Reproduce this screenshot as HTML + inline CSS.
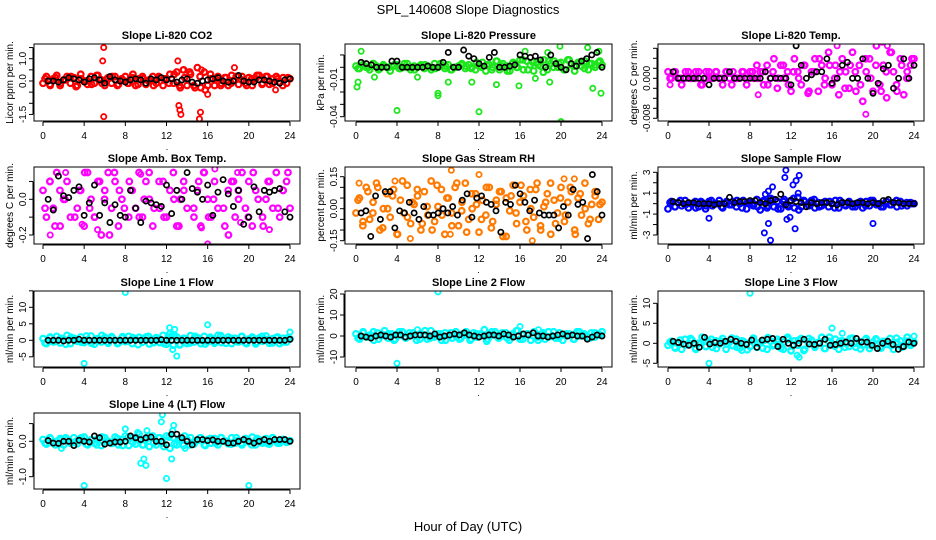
<!DOCTYPE html>
<html><head><meta charset="utf-8"><style>
html,body{margin:0;padding:0;background:#fff}
svg{display:block;font-family:"Liberation Sans",Arial,sans-serif}
</style></head><body>
<svg id="chart" width="936" height="540" viewBox="0 0 936 540" xmlns="http://www.w3.org/2000/svg">
<rect x="0" y="0" width="936" height="540" fill="#fff"/>
<text x="468" y="14" text-anchor="middle" font-size="13">SPL_140608  Slope Diagnostics</text>
<text x="468" y="531" text-anchor="middle" font-size="13">Hour of Day (UTC)</text>
</svg>
<script>
const hourTicks=[0,4,8,12,16,20,24];

const co2Band=[-0.1,0.2,-0.15,0.1,0.25,-0.2,0.05,0.2,-0.1,0.15,-0.2,0.3,0.0,-0.15,0.2,-0.1,0.25,0.05,-0.2,0.15,-0.1,0.2,-0.15,0.1,0.2,-0.1,0.15,-0.2,0.1,0.2,-0.15,0.05,0.2,-0.1,0.15,-0.2,0.1,0.3,-0.1,0.4,-0.3,0.5,-0.2,0.3,-0.2,0.6,-0.3,0.4,-0.2,0.1,-0.2,0.2,-0.1,0.15,-0.2,0.25,0.05,-0.15,0.2,-0.1,0.15,-0.2,0.1,0.25,-0.1,0.2,-0.15,0.1,0.2,-0.05,0.15,-0.1,0.1];
const co2Band2=[0.1,-0.2,0.15,-0.1,0.05,0.2,-0.25,0.1,0.0,-0.15,0.25,-0.1,0.1,0.2,-0.2,0.05,-0.1,0.3,-0.15,0.1,0.0,-0.2,0.2,0.1,-0.1,0.3,-0.2,0.15,0.4,-0.3,0.2,-0.4,0.3,0.1,-0.2,0.15,-0.1,0.2,0.05,-0.2,0.1,0.25,-0.15,0.2,-0.1,0.1,-0.2,0.15];
const co2Black=[0,0,-0.05,0.05,0.15,0.1,0.05,-0.05,0.1,0.15,0.05,-0.1,0.2,0.05,0.0,-0.05,0.05,0.1,0.05,-0.1,0.1,0.05,0.15,0.05,0.1,-0.05,0.05,0.1,-0.05,-0.1,0.0,0.05,0.1,0.15,0.0,-0.05,0.0,0.25,0.0,-0.05,-0.05,0.05,0.05,0.0,-0.05,-0.1,0.05,0.1];
const co2Out=[[5.9,1.5],[5.8,0.9],[5.9,-1.6],[13.2,-1.1],[13.3,-1.3],[13.4,-1.5],[13.1,0.9],[15.2,-1.7],[15.3,-1.4],[18.6,0.6],[16,-0.6],[22.6,-0.4],[13.6,0.5],[15.4,0.5]];

const presBand=[0.001,-0.001,0.002,0.0,-0.002,0.003,0.001,-0.001,0.002,0.0,-0.003,0.001,0.002,-0.001,0.0,0.003,-0.002,0.001,0.0,0.002,-0.001,0.001,-0.002,0.003,0.0,0.001,-0.001,0.002,-0.002,0.0,0.001,0.003,-0.001,0.002,0.0,-0.002,0.001,0.004,-0.003,0.002,0.0,0.005,-0.002,0.003,0.001,-0.003,0.004,0.0,0.006,-0.002,0.005,0.002,-0.003,0.004,0.001,0.006,-0.002,0.003,0.005,0.0,0.004,-0.002,0.006,0.002,-0.003,0.004,0.001,0.005,-0.002,0.003,0.0,0.004,0.002];
const presBand2=[-0.001,0.002,0.0,0.003,-0.002,0.001,0.0,0.002,-0.001,0.003,0.0,-0.002,0.001,0.002,0.0,-0.001,0.003,0.001,-0.002,0.0,0.002,0.001,-0.001,0.004,0.0,0.002,-0.002,0.005,0.001,-0.003,0.003,0.0,0.006,-0.002,0.004,0.002,-0.004,0.005,0.0,0.003,-0.002,0.006,0.001,0.004,-0.001,0.003,0.002,0.005];
const presBlack=[0.004,0.003,0.002,0.0,0.0,0.0,0.005,0.005,0.0,0.0,0.0,0.0,0.0,0.001,0.0,0.0,0.004,0.012,0.0,0.0,0.014,0.009,0.007,0.003,0.001,0.008,0.012,0.0,0.0,0.001,0.002,0.01,0.009,0.008,0.009,0.006,0.0,0.01,0.003,0.0,-0.002,0.003,0.001,0.005,0.007,0.01,0.012,0.0];
const presOut=[[0.1,-0.016],[0.2,-0.012],[0.5,0.013],[4,-0.035],[8,-0.021],[8,-0.023],[12,-0.036],[20,-0.044],[19.9,0.017],[22.6,0.016],[23.9,-0.021],[23.7,0.013],[9,-0.012],[11.3,-0.012],[15.9,-0.015],[13.7,-0.014],[1.8,-0.008],[6.0,-0.008],[17.5,-0.009],[18.9,-0.012],[23.1,-0.017],[16.5,0.013],[18.7,0.012]];

const tempBand=[0.0013,0,0.0013,0,-0.0013,0,0.0013,0,0,0.0013,-0.0013,0,0.0013,0,0.0013,0,-0.0013,0.0013,0,0.0013,0,0,0.0013,-0.0013,0.0013,0,0.0026,0.0013,-0.0013,0.0026,0,0.0039,-0.002,0.0026,0,0.0013,-0.0026,0.0039,0.0013,-0.0013,0.0026,-0.003,0.0013,0.0039,-0.0026,0.0026,0,0.0052,-0.0013,0.0026,-0.0033,0.0039,0.0013,-0.002,0.0052,-0.0026,0.0026,-0.0046,0.0013,0.0039,-0.0026,0.0065,-0.0013,0.0026,-0.0039,0.0052,0.0013,-0.0026,0.0039,-0.0033,0.0013,0.0026,0.0039];
const tempBand2=[0,0.0013,0,0.0013,0,0.0013,-0.0013,0.0013,0,0.0013,0,0.0013,-0.0013,0,0.0013,0,0.0013,0,0.0013,-0.0013,0.0013,0,0.0026,-0.0013,0.0013,0,0.0026,-0.0026,0.0013,0.0039,-0.0013,0.0026,0,0.0013,-0.002,0.0026,0.0013,-0.0013,0.0039,0,0.0026,-0.0026,0.0013,0.0052,-0.0013,0.0026,0,0.0039];
const tempBlack=[0.0013,0,0,0,0,0,0,-0.0013,0,0,0,0.0013,0,0,0,0,0,0,0.0013,0,0,0,0,-0.0013,0.0065,0.0026,0,0.0007,0.0013,0.0013,0.0039,-0.001,0,0.0026,0.0032,0,0,0.0039,0,-0.003,-0.001,0.0019,0.0026,-0.002,0,0.0039,0,0.0026];
const tempOut=[[20.7,-0.0092],[19.3,-0.0072],[23.8,0.0092],[0.2,-0.0013],[8.8,-0.0033],[21.4,0.0065],[20.9,0.0072],[16.5,0.0065]];

const ambBand=[0.05,-0.1,0.1,-0.05,0.15,-0.15,0.0,0.1,-0.1,0.2,-0.05,0.05,-0.15,0.15,0.0,-0.1,0.1,-0.2,0.05,0.15,-0.05,0.1,-0.15,0.0,0.2,-0.1,0.05,-0.05,0.15,-0.1,0.1,0.0,-0.15,0.2,-0.05,0.1,-0.1,0.05,0.15,-0.15,0.0,0.1,-0.05,0.2,-0.1,0.05,-0.15,0.15,0.0,-0.1,0.1,-0.05,0.2,-0.15,0.05,0.1,-0.1,0.0,0.15,-0.05,0.1,-0.15,0.05,0.2,-0.1,0.0,0.1,-0.05,0.15,-0.1,0.05,0.1,-0.05];
const ambBand2=[-0.05,0.1,-0.15,0.05,0.0,0.2,-0.1,0.05,0.15,-0.05,-0.1,0.1,0.0,-0.2,0.15,0.05,-0.05,0.1,0.25,-0.1,0.0,0.15,-0.05,0.1,-0.1,0.2,0.0,-0.15,0.05,0.25,-0.05,0.1,0.15,-0.1,0.0,0.2,-0.05,-0.2,0.1,0.05,0.25,-0.1,0.15,0.0,-0.15,0.1,0.2,-0.05,0.05,0.15];
const ambBlack=[0.0,-0.06,0.13,0.02,0.01,0.05,0.07,-0.09,-0.02,0.08,-0.09,-0.02,-0.13,-0.03,-0.09,-0.1,0.05,-0.05,-0.13,-0.01,-0.02,-0.03,-0.04,0.08,-0.08,0.05,0.0,0.15,0.06,0.04,0.0,0.08,-0.09,0.04,0.11,0.03,-0.04,0.05,-0.14,-0.1,0.07,-0.07,0.05,0.04,0.05,0.06,-0.07,-0.1];
const ambOut=[[0.7,-0.2],[16,-0.25],[5.3,-0.17],[22,-0.17],[15.4,-0.16],[19.2,-0.13],[2.2,0.15],[9.5,0.14],[16.7,0.17],[18.9,0.15],[3.8,-0.14]];

const rhBand=[-0.02,0.05,-0.08,0.1,-0.05,0.03,0.12,-0.1,0.0,0.07,-0.04,0.09,-0.12,0.04,-0.02,0.11,-0.07,0.02,0.06,-0.1,0.08,-0.03,0.13,-0.06,0.01,0.09,-0.12,0.05,-0.02,0.1,-0.08,0.03,0.12,-0.05,0.0,0.07,-0.11,0.04,-0.03,0.1,-0.06,0.02,0.08,-0.13,0.05,-0.01,0.11,-0.07,0.03,0.06,-0.1,0.09,-0.04,0.12,-0.08,0.01,0.07,-0.12,0.04,-0.02,0.1,-0.06,0.03,0.08,-0.1,0.05,-0.03,0.12,-0.07,0.02,0.06,-0.05,0.03];
const rhBand2=[0.04,-0.06,0.08,-0.02,0.1,-0.09,0.0,0.06,-0.12,0.13,-0.04,0.03,0.09,-0.07,0.01,-0.1,0.11,-0.03,0.05,-0.08,0.12,-0.01,-0.11,0.07,0.02,-0.05,0.1,-0.09,0.04,0.08,-0.13,0.06,-0.02,0.11,-0.06,0.0,0.09,-0.1,0.03,0.12,-0.07,0.05,-0.03,0.1,-0.12,0.07,0.0,-0.05,0.08,0.02];
const rhBlack=[-0.02,-0.01,-0.13,0.06,-0.05,0.08,0.08,-0.09,-0.01,-0.02,0.03,-0.02,-0.05,0.01,-0.03,-0.03,-0.02,0.0,-0.02,0.01,-0.03,0.04,0.07,-0.04,0.05,0.06,0.03,0.02,-0.01,-0.11,0.03,0.02,0.11,0.07,0.03,-0.01,0.04,-0.02,-0.03,-0.03,-0.03,-0.09,0.01,-0.03,0.09,0.02,0.03,-0.14,0.16,0.08,-0.03];
const rhOut=[[9.3,0.18],[12,0.16],[5.3,-0.14],[17.2,-0.15],[9.2,-0.12],[21.3,0.14],[20.3,0.14],[3.8,0.13],[0.3,0.12]];

const flowBand=[-0.5,0.2,-0.3,0.1,-0.2,0.3,-0.4,0.0,0.2,-0.3,0.1,-0.5,0.2,-0.2,0.0,0.3,-0.4,0.1,-0.1,0.2,-0.3,0.0,0.3,-0.5,0.1,-0.2,0.4,-0.6,0.3,-0.4,0.5,-0.3,0.2,-0.5,0.4,-0.2,0.3,-0.4,0.6,-0.3,0.2,-0.1,0.3,-0.4,0.1,-0.2,0.2,-0.3,0.0,0.3,-0.4,0.1,-0.2,0.2,-0.3,0.0,0.1,-0.4,0.2,-0.2,0.3,-0.1,0.0,-0.3,0.2,-0.1,0.1,-0.3,0.2,0.0,-0.2,0.1,0.0];
const flowBand2=[0.1,-0.3,0.3,-0.1,0.0,-0.4,0.2,-0.2,0.3,0.0,-0.3,0.2,-0.1,0.3,-0.4,0.1,0.0,-0.3,0.2,-0.2,0.4,-0.5,0.2,-0.3,0.5,-0.6,0.3,-0.2,0.4,-0.3,0.1,0.2,-0.4,0.3,-0.1,0.0,-0.3,0.2,-0.2,0.3,0.0,-0.3,0.2,-0.1,0.3,-0.2,0.1,0.0];
const flowBlack=[0.2,0.1,0.0,0.1,0.1,0.0,0.0,0.0,-0.1,0.0,0.0,0.6,0.1,0.2,0.2,0.3,0.3,0.1,0.0,0.3,0.4,0.9,-0.1,0.3,0.2,0.1,-0.3,0.1,0.0,0.1,0.1,0.0,-0.1,0.1,0.1,0.0,0.1,0.1,0.0,0.1,0.0,0.3,0.4,0.1,0.1,0.0,0.0,0.0];
const flowOut=[[4,-1.4],[20,-1.9],[9.4,-2.8],[9.8,-1.9],[10,-3.5],[11.5,3.2],[11.4,2.5],[12.8,2.7],[12.5,2.2],[12.2,1.8],[10.2,1.6],[9.8,1.2],[9.5,0.9],[11.6,-1.5],[11.9,-1.3],[12.4,-2.4],[12.7,1.0]];

const l1Band=[0.5,-1,0.8,-0.5,1.2,-0.8,0.3,1.5,-1,0.6,-0.3,1,-0.7,0.2,1.3,-1.2,0.5,-0.5,0.9,-0.9,1.1,0.0,-0.8,0.7,-0.4,1.2,-1,0.4,0.9,-0.6,1,-1.1,0.3,0.8,-0.7,1.5,-1.2,2,-1.5,1,-1.3,0.6,-1,1.4,-0.5,0.8,-1,1.2,-0.4,0.5,-0.9,1.5,-0.7,0.3,1,-1,0.6,-0.5,1.2,-0.8,0.4,1,-1.1,0.7,-0.3,1.3,-0.9,0.5,0.8,-1,0.6,-0.5,0.4];
const l1Band2=[-0.8,1,-0.3,0.6,-1.2,0.9,0.0,-0.6,1.3,-0.9,0.4,1.5,-0.5,0.7,-1,1.1,-0.2,0.8,-1.3,0.5,1.2,-0.7,0.3,-1,0.9,1.6,-1.4,0.5,-0.8,1.2,0.0,-1.1,0.9,-0.4,1.4,-0.9,0.6,-0.3,1.1,-1,0.7,-0.6,1.2,0.2,-0.8,1,-0.5,0.8];
const l1Black=[0,0,0,-0.2,0,0,0.3,0,0,0,0,0,0,0,0,0,0,0,0,0,0,0,0.2,0,0,0,0,0,0,0,0,0,0,0,0,0,0,0,0,0,0,0,0,0,0,0,0,0.3];
const l1Out=[[8,14.5],[4,-7],[16,4.7],[24,2.5],[12.3,3.8],[12.8,3.3],[12.6,-2.8],[13,-4.8],[12.5,1.5]];

const l2Band=[1,-1.5,2,-0.5,0.5,-2,1.5,0,2.5,-1,1,-1.5,0.5,2,-1,0,1.5,-2,1,0.5,-1.5,2.5,-0.5,1,-2,1.5,0,-1,2,-1.5,1,0.5,-2,1.5,-0.5,1,3,-1.5,0.5,2,-1,0,1.5,-2,1,2.5,-1.5,0.5,1,-2,2,-0.5,1,-1.5,2,0,-1,1.5,-2,1,0.5,-1.5,2,0,1,-1,1.5,-0.5,0.5,2];
const l2Band2=[-1,1.5,0,2,-1.5,0.5,1,-2,2,-0.5,1.5,0,-1.5,2.5,-1,0.5,1,-2,1.5,0,-1,2,-1.5,1,0.5,-2.5,2,0,1.5,-1,0.5,2.5,-1.5,1,0,-2,1.5,-0.5,2,-1,0.5,1,-1.5,2,0,-1,1.5,0.5];
const l2Black=[0,-0.5,-1,0,0.5,0,-0.5,0.5,0.5,-0.5,0,0.5,0.5,0.5,0,1,-0.5,0,0.5,1,0.5,1.5,0.5,0,-0.5,0,0.5,0.5,0,1,0.5,-0.5,0,1,0.5,1.5,0,0,-0.5,0,0.5,1,0,0.5,0,0,-1.5,-0.5,0.5,0];
const l2Out=[[8,21],[4,-13],[16,4.5],[6,3],[17.8,3],[24,2]];

const l3Band=[-0.5,0.5,-1,0.2,-1.5,1,-0.3,0.8,-1.2,0,1.5,-0.8,0.4,-1,0.6,-0.2,1.2,-1.5,0.3,-0.6,1,-1.2,0.5,0,-0.8,1.3,-1,0.2,0.7,-1.5,0.5,-0.3,1,-1.2,0.4,1.5,-1.8,0.6,-0.5,1.2,-1.5,0.3,0.8,-1,0.2,1.5,-1.3,0.5,-0.2,1,-1.5,0.6,0,-0.8,1.3,-1,0.4,-0.5,1.2,-1.3,0.3,0.8,-1,0.5,-0.3,1.2,-1.5,0.2,0.6,-0.8,1.5,-0.5,0.3];
const l3Band2=[0.3,-1.2,0.8,-0.4,1.2,-1.5,0.2,-0.8,1,-1.3,0.5,-0.2,1.3,-1,0.6,-1.6,0.9,0,-1.2,1.4,-0.6,0.4,-1.5,1,-0.3,0.8,-1.8,1.2,-0.5,0.3,-1.3,1.5,-0.7,0.5,-1,1.2,0.0,-1.4,0.9,-0.5,1.1,-1.2,0.4,-0.6,1.3,-1,0.5,0.0];
const l3Black=[0.5,0.2,-0.2,-0.5,0,-1,1.5,-0.2,0.2,0,0.5,1,0.5,0,-0.3,0.8,-1,0.8,1,1.2,-0.8,1,0,-0.5,0,1,-0.2,-0.3,0,1,-0.5,-0.3,0,0.3,0,1.2,0.3,0.3,-0.5,-1.3,0,0.5,-0.3,-1.5,-0.8,0.3,0];
const l3Out=[[8,12.5],[4,-5],[16,3.8],[17,2.5],[24,1.8],[12,-2],[12.6,-3],[12.8,-3.5],[7.2,-1.8]];

const l4Band=[0.05,-0.08,0.1,-0.05,0.0,0.08,-0.1,0.05,-0.03,0.1,-0.07,0.02,0.12,-0.1,0.04,-0.05,0.08,-0.12,0.1,0.0,-0.06,0.12,-0.1,0.05,0.15,-0.12,0.1,-0.08,0.2,-0.1,0.05,-0.15,0.15,-0.1,0.1,-0.05,0.15,-0.2,0.1,-0.1,0.08,-0.12,0.05,0.1,-0.08,0.02,0.1,-0.1,0.05,-0.05,0.08,-0.1,0.1,0.0,-0.07,0.1,-0.05,0.03,-0.1,0.08,-0.02,0.12,-0.1,0.05,-0.05,0.08,-0.08,0.1,0.0,-0.05,0.05,-0.03,0.02];
const l4Band2=[-0.05,0.08,-0.1,0.03,0.1,-0.06,0.0,0.1,-0.08,0.05,-0.1,0.12,0.0,-0.05,0.08,-0.12,0.1,-0.03,0.06,-0.1,0.15,-0.05,0.1,-0.15,0.12,-0.08,0.05,0.15,-0.1,0.0,0.1,-0.12,0.08,-0.05,0.1,0.0,-0.08,0.1,-0.05,0.06,-0.1,0.08,0.0,-0.06,0.1,-0.05,0.05,0.0];
const l4Black=[0.02,-0.05,-0.06,0.0,0.0,-0.12,0.03,0.0,-0.02,0.15,0.1,-0.08,-0.05,-0.02,-0.02,0.0,0.15,0.1,0.05,0.1,0.12,0.0,0.0,-0.1,0.2,0.2,0.1,0.0,-0.1,0.05,0.05,0.02,0.04,0.0,0.0,-0.05,-0.05,0.0,0.05,0.0,-0.05,0.0,0.05,0.0,0.05,0.05,0.05,0.0];
const l4Out=[[4,-1.25],[20,-1.25],[12,-1.05],[11.6,0.75],[11.5,0.55],[9.5,-0.62],[9.8,-0.5],[10,-0.68],[12.5,-0.5],[8,0.35],[12.7,0.45],[12.6,0.3],[10.1,0.3],[9.2,0.25],[1.8,-0.2],[13.8,-0.2]];

const cols=[{l:34,r:300,x0:43,x24:290},{l:345,r:612,x0:356,x24:602},{l:658,r:924,x0:668,x24:914}];
const rows=[{t:44,b:121},{t:167,b:244},{t:291,b:367},{t:413,b:489}];

const panels=[
 {name:'co2',title:'Slope Li-820 CO2',ylab:'Licor ppm per min.',c:0,r:0,color:'#ff0000',band:co2Band,band2:co2Band2,black:co2Black,out:co2Out,map:[0,81,1,58.7],ticks:[-1.5,-1,-0.5,0,0.5,1,1.5],labels:['-1.5','','','0.0','','1.0','']},
 {name:'pressure',title:'Slope Li-820 Pressure',ylab:'kPa per min.',c:1,r:0,color:'#1ee61e',band:presBand,band2:presBand2,black:presBlack,out:presOut,map:[0,67.3,-0.04,116.7],ticks:[-0.04,-0.03,-0.02,-0.01,0,0.01],labels:['-0.04','','','-0.01','','']},
 {name:'temp',title:'Slope Li-820 Temp.',ylab:'degrees C per min.',c:2,r:0,color:'#ff00ff',band:tempBand,band2:tempBand2,black:tempBlack,out:tempOut,map:[0,78.3,-0.008,118.3],ticks:[-0.008,-0.006,-0.004,-0.002,0,0.002,0.004,0.006],labels:['-0.008','','','','0.000','','','']},
 {name:'amb-box',title:'Slope Amb. Box Temp.',ylab:'degrees C per min.',c:0,r:1,color:'#ff00ff',band:ambBand,band2:ambBand2,black:ambBlack,out:ambOut,map:[0,199.3,-0.2,235],ticks:[-0.2,-0.1,0,0.1],labels:['-0.2','','0.0','']},
 {name:'gas-rh',title:'Slope Gas Stream RH',ylab:'percent per min.',c:1,r:1,color:'#ff7a00',band:rhBand,band2:rhBand2,black:rhBlack,out:rhOut,map:[0,208.7,0.15,176.7],ticks:[-0.15,-0.1,-0.05,0,0.05,0.1,0.15],labels:['-0.15','','','0.00','','','0.15']},
 {name:'sample-flow',title:'Slope Sample Flow',ylab:'ml/min per min.',c:2,r:1,color:'#0000ff',band:flowBand,band2:flowBand2,black:flowBlack,out:flowOut,map:[3,172.3,-3,235],ticks:[-3,-2,-1,0,1,2,3],labels:['-3','','-1','','1','','3']},
 {name:'line1',title:'Slope Line 1 Flow',ylab:'ml/min per min.',c:0,r:2,color:'#00ffff',band:l1Band,band2:l1Band2,black:l1Black,out:l1Out,map:[0,340.3,10,307.3],ticks:[-5,0,5,10,15],labels:['-5','0','5','10','']},
 {name:'line2',title:'Slope Line 2 Flow',ylab:'ml/min per min.',c:1,r:2,color:'#00ffff',band:l2Band,band2:l2Band2,black:l2Black,out:l2Out,map:[0,336,20,294],ticks:[-10,0,10,20],labels:['-10','0','10','20']},
 {name:'line3',title:'Slope Line 3 Flow',ylab:'ml/min per min.',c:2,r:2,color:'#00ffff',band:l3Band,band2:l3Band2,black:l3Black,out:l3Out,map:[0,343.3,10,303.3],ticks:[-5,0,5,10],labels:['-5','0','5','10']},
 {name:'line4',title:'Slope Line 4 (LT) Flow',ylab:'ml/min per min.',c:0,r:3,color:'#00ffff',band:l4Band,band2:l4Band2,black:l4Black,out:l4Out,map:[0,441.3,-1,476.7],ticks:[-1,-0.5,0,0.5],labels:['-1.0','','0.0','']}
];

const NS='http://www.w3.org/2000/svg';
const svg=document.getElementById('chart');
function mk(tag,attrs,parent){const e=document.createElementNS(NS,tag);for(const k in attrs)e.setAttribute(k,attrs[k]);parent.appendChild(e);return e;}

panels.forEach(p=>{
  const col=cols[p.c],row=rows[p.r];
  const xS=t=>col.x0+(col.x24-col.x0)*t/24;
  const yS=v=>p.map[1]+(v-p.map[0])*(p.map[3]-p.map[1])/(p.map[2]-p.map[0]);
  const g=mk('g',{},svg);
  
  
  const title=mk('text',{x:(col.l+col.r)/2,y:row.t-5,'text-anchor':'middle','font-size':'11','font-weight':'bold'},g);
  
  
  title.textContent=p.title;
  const yl=mk('text',{transform:`translate(${col.l-21},${(row.t+row.b)/2}) rotate(-90)`,'text-anchor':'middle','font-size':'10'},g);
  
  
  yl.textContent=p.ylab;
  const clip=mk('clipPath',{id:'clip-'+p.name},g);
  mk('rect',{x:col.l,y:row.t,width:col.r-col.l,height:row.b-row.t},clip);
  const pts=mk('g',{'clip-path':`url(#clip-${p.name})`,fill:'none'},g);
  
  
  const drawSeries=(arr,t0,t1,color,r,sw)=>{
    arr.forEach((v,i)=>{
      const t=t0+(t1-t0)*i/(arr.length-1);
      const c=mk('circle',{cx:xS(t),cy:yS(v),r:r,stroke:color,'stroke-width':sw},pts);
      
      
    });
  };
  drawSeries(p.band,0,24,p.color,2.8,2.2);
  drawSeries(p.band2,0.2,23.8,p.color,2.8,2.2);
  p.out.forEach(o=>{
    const c=mk('circle',{cx:xS(o[0]),cy:yS(o[1]),r:2.6,stroke:p.color,'stroke-width':1.8},pts);
    
    
  });
  drawSeries(p.black,0.5,24,'#000',2.6,1.7);
  const box=mk('rect',{x:col.l,y:row.t,width:col.r-col.l,height:row.b-row.t,fill:'none',stroke:'#000','stroke-width':'1'},g);
  
  
  const xa=mk('g',{},g);
  
  
  mk('line',{x1:xS(0),x2:xS(24),y1:row.b+1,y2:row.b+1,stroke:'#000'},xa);
  hourTicks.forEach(h=>{
    mk('line',{x1:xS(h),x2:xS(h),y1:row.b+1,y2:row.b+5,stroke:'#000'},xa);
    const tl=mk('text',{x:xS(h),y:row.b+18,'text-anchor':'middle','font-size':'10'},xa);
    
    
    tl.textContent=h;
  });
  mk('text',{x:(col.l+col.r)/2,y:row.b+29,'text-anchor':'middle','font-size':'9'},xa).textContent='.';
  const ya=mk('g',{},g);
  
  
  const ys=p.ticks.map(yS);
  mk('line',{x1:col.l-1,x2:col.l-1,y1:Math.min(...ys),y2:Math.max(...ys),stroke:'#000'},ya);
  p.ticks.forEach((v,i)=>{
    mk('line',{x1:col.l-5,x2:col.l-1,y1:yS(v),y2:yS(v),stroke:'#000'},ya);
    if(p.labels[i]){
      const tl=mk('text',{transform:`translate(${col.l-8},${yS(v)}) rotate(-90)`,'text-anchor':'middle','font-size':'10'},ya);
      
      
      tl.textContent=p.labels[i];
    }
  });
});
</script>
</body></html>
